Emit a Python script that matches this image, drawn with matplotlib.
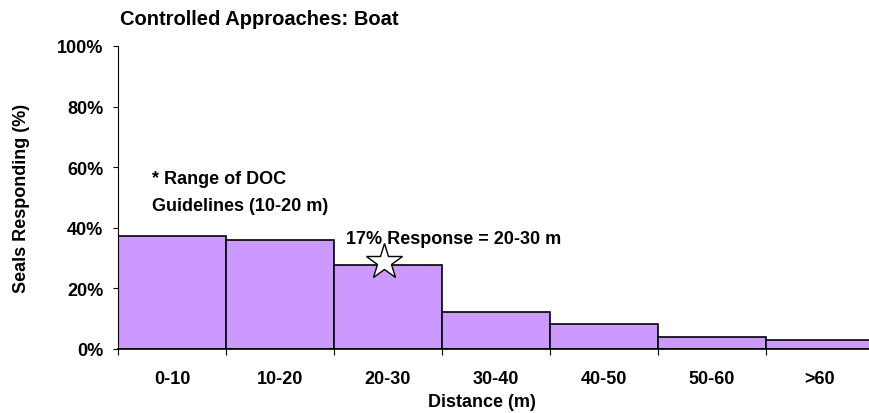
import numpy as np
import matplotlib.pyplot as plt

plt.rcParams['font.family'] = ['Liberation Sans', 'DejaVu Sans']
plt.rcParams['font.weight'] = 'bold'

# data
categories = ['0-10', '10-20', '20-30', '30-40', '40-50', '50-60', '>60']
responding = [37.4, 35.9, 27.7, 12.3, 8.1, 4.0, 2.9]
star_pos = (1.96, 28.7)

fs = 13

fig = plt.figure(figsize=(8.69, 4.14), dpi=100)
ax = fig.add_axes([0.1358, 0.1546, 0.8700, 0.7320])

x = np.arange(len(categories))
ax.bar(x, responding, width=1.0, color='#CC99FF', edgecolor='black', linewidth=1.2, zorder=2)
ax.plot(star_pos[0], star_pos[1], marker='*', markersize=27, markerfacecolor='white',
        markeredgecolor='black', markeredgewidth=1.0, zorder=3, clip_on=False)

ax.set_xlim(-0.5, len(categories) - 0.5)
ax.set_ylim(0, 100)
ax.set_yticks(np.arange(0, 101, 20))
ax.set_yticklabels([f'{v}%' for v in range(0, 101, 20)])
ax.set_xticks(x)
ax.set_xticklabels(categories)
ax.set_xticks(np.arange(-0.5, len(categories), 1.0), minor=True)
ax.tick_params(axis='x', which='major', length=0, pad=15, labelsize=fs)
ax.tick_params(axis='x', which='minor', length=4.5, width=0.8)
ax.tick_params(axis='y', length=3.6, width=0.8, labelsize=fs, pad=7)

for s in ['top', 'right']:
    ax.spines[s].set_visible(False)
ax.spines['left'].set_linewidth(0.8)
ax.spines['bottom'].set_linewidth(1.2)

ax.set_xlabel('Distance (m)', fontsize=fs, fontweight='bold')
ax.xaxis.set_label_coords(0.482, -0.146)
ax.set_ylabel('Seals Responding (%)', fontsize=fs, fontweight='bold')
ax.yaxis.set_label_coords(-0.117, 0.5)
fig.text(0.138, 0.952, 'Controlled Approaches: Boat', fontsize=14.5, fontweight='bold',
         va='center', ha='left')

ax.text(-0.185, 56.1, '* Range of DOC', fontsize=fs, fontweight='bold', va='center', ha='left')
ax.text(-0.185, 47.5, 'Guidelines (10-20 m)', fontsize=fs, fontweight='bold', va='center', ha='left')
ax.text(1.61, 36.5, '17% Response = 20-30 m', fontsize=fs, fontweight='bold',
        va='center', ha='left')

fig.savefig('out.png', dpi=100)
